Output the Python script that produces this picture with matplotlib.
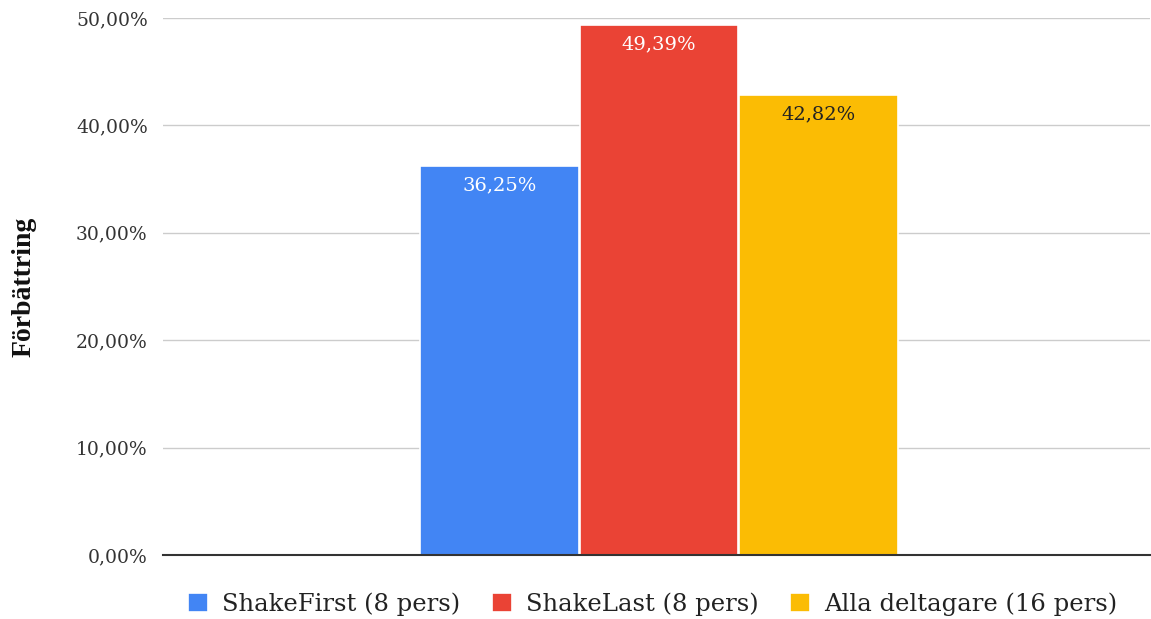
import matplotlib
matplotlib.use("Agg")
import matplotlib.pyplot as plt
from matplotlib.ticker import FuncFormatter

series = ["ShakeFirst (8 pers)", "ShakeLast (8 pers)", "Alla deltagare (16 pers)"]
values = [36.25, 49.39, 42.82]
colors = ["#4285F4", "#EA4335", "#FBBC04"]
label_colors = ["white", "white", "#222222"]
yticks = [0, 10, 20, 30, 40, 50]

fig = plt.figure(figsize=(11.51, 6.19), dpi=100)
ax = fig.add_axes([163/1151, 1-555/619, (1150-163)/1151, (555-18)/619])

width = 0.161
offsets = [-0.1591, 0.0025, 0.1641]
for s, v, c, lc, off in zip(series, values, colors, label_colors, offsets):
    ax.bar(off, v, width=width, color=c, edgecolor="white", linewidth=1.2, label=s, zorder=3)
    ax.text(off, v - 1.0, f"{v:.2f}%".replace(".", ","), ha="center", va="top",
            color=lc, fontsize=14, family="DejaVu Serif", zorder=4)

ax.set_xlim(-0.5, 0.5)
ax.set_ylim(0, 50)
ax.set_yticks(yticks)
ax.yaxis.set_major_formatter(FuncFormatter(lambda v, p: f"{v:.2f}%".replace(".", ",")))
ax.tick_params(axis="y", length=0, pad=11, labelsize=13.5, labelcolor="#333333")
for lab in ax.get_yticklabels():
    lab.set_family("DejaVu Serif")
ax.set_xticks([])
ax.grid(axis="y", color="#cccccc", linewidth=1, zorder=0)
for sp in ["top", "right", "left"]:
    ax.spines[sp].set_visible(False)
ax.spines["bottom"].set_color("#333333")
ax.spines["bottom"].set_linewidth(1.5)
ax.spines["bottom"].set_zorder(5)

fig.text(24/1151, 1-287/619, "Förbättring", rotation=90, ha="center", va="center",
         fontsize=20, fontweight="bold", family="Liberation Serif", color="#111111")

leg = fig.legend(loc="center", bbox_to_anchor=(653/1151, 1-604/619), ncol=3, frameon=False,
                 prop={"family": "DejaVu Serif", "size": 17.5}, handlelength=0.8, handleheight=0.8,
                 columnspacing=1.3, handletextpad=0.6)
for t in leg.get_texts():
    t.set_color("#222222")

fig.savefig("out.png", dpi=100)
